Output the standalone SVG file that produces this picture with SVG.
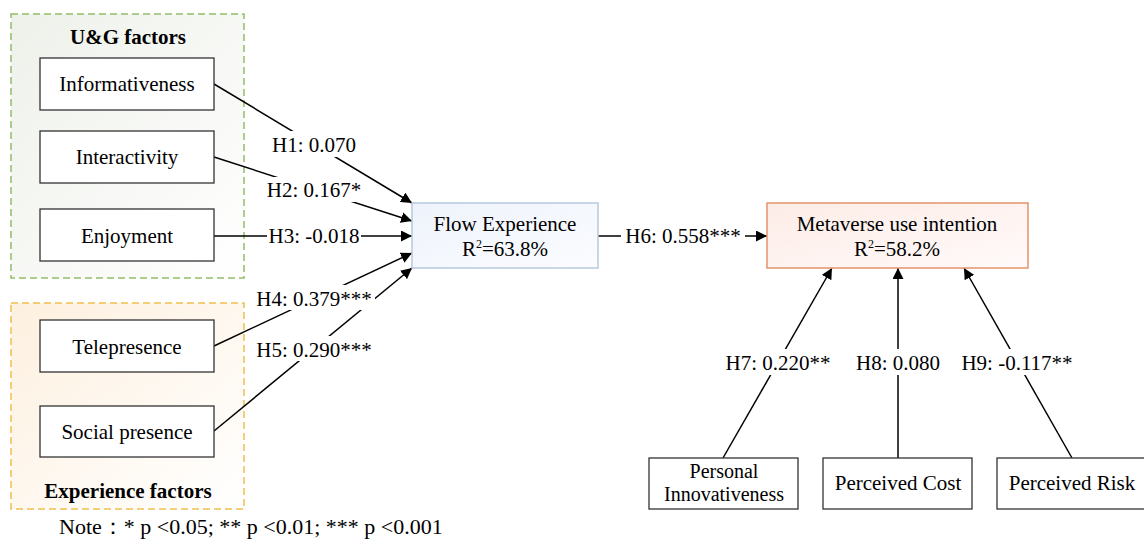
<svg xmlns="http://www.w3.org/2000/svg" width="1144" height="542" viewBox="0 0 1144 542">
<defs>
<linearGradient id="gGreen" x1="0" y1="0" x2="1" y2="1"><stop offset="0" stop-color="#eef1ea"/><stop offset="1" stop-color="#ffffff"/></linearGradient>
<linearGradient id="gOrange" x1="0" y1="0" x2="1" y2="1"><stop offset="0" stop-color="#fdf0df"/><stop offset="1" stop-color="#ffffff"/></linearGradient>
<linearGradient id="gBlue" x1="0" y1="0" x2="1" y2="1"><stop offset="0" stop-color="#eef3fb"/><stop offset="1" stop-color="#fbfcff"/></linearGradient>
<linearGradient id="gPink" x1="0" y1="0" x2="1" y2="1"><stop offset="0" stop-color="#fdece6"/><stop offset="1" stop-color="#fffafa"/></linearGradient>
<marker id="arr" viewBox="0 0 10 10" refX="10" refY="5" markerWidth="11" markerHeight="11" markerUnits="userSpaceOnUse" orient="auto"><path d="M0,0 L10,5 L0,10 z" fill="#000"/></marker>
</defs>
<style>
text{font-family:"Liberation Serif","Times New Roman",serif;font-size:21px;fill:#000;text-anchor:middle}
.node{fill:#fff;stroke:#333;stroke-width:1.3}
.grp{stroke-width:1.5;stroke-dasharray:7,4}
.b{font-weight:bold}
.c{stroke:#000;stroke-width:1.5;fill:none}
.lbl{fill:#fff}
</style>
<rect width="1144" height="542" fill="#fff"/>
<g id="ug-group">
<rect x="11" y="14" width="233" height="264" fill="url(#gGreen)" stroke="#93bd6a" class="grp"/>
<text x="128" y="44" class="b">U&amp;G factors</text>
</g>
<g id="exp-group">
<rect x="11" y="303" width="233" height="206" fill="url(#gOrange)" stroke="#efc04e" class="grp"/>
<text x="128" y="498" class="b">Experience factors</text>
</g>
<g id="connectors">
<line class="c" x1="214" y1="84" x2="412" y2="203" marker-end="url(#arr)"/>
<line class="c" x1="214" y1="157" x2="412" y2="221" marker-end="url(#arr)"/>
<line class="c" x1="214" y1="236" x2="412" y2="236" marker-end="url(#arr)"/>
<line class="c" x1="214" y1="346" x2="412" y2="253" marker-end="url(#arr)"/>
<line class="c" x1="214" y1="431" x2="412" y2="268" marker-end="url(#arr)"/>
<line class="c" x1="598" y1="236" x2="767" y2="236" marker-end="url(#arr)"/>
<line class="c" x1="723" y1="458" x2="832" y2="268" marker-end="url(#arr)"/>
<line class="c" x1="898" y1="458" x2="898" y2="268" marker-end="url(#arr)"/>
<line class="c" x1="1072" y1="458" x2="964" y2="268" marker-end="url(#arr)"/>
<rect class="lbl" x="268" y="131" width="92" height="26"/>
<text x="314" y="152">H1: 0.070</text>
<rect class="lbl" x="264" y="177" width="100" height="25"/>
<text x="314" y="197">H2: 0.167*</text>
<rect class="lbl" x="267" y="225" width="94" height="22"/>
<text x="314" y="243">H3: -0.018</text>
<rect class="lbl" x="253" y="285" width="122" height="25"/>
<text x="314" y="306">H4: 0.379***</text>
<rect class="lbl" x="253" y="336" width="122" height="25"/>
<text x="314" y="357">H5: 0.290***</text>
<rect class="lbl" x="621" y="225" width="124" height="22"/>
<text x="683" y="243">H6: 0.558***</text>
<rect class="lbl" x="721" y="349" width="114" height="26"/>
<text x="778" y="370">H7: 0.220**</text>
<rect class="lbl" x="852" y="349" width="92" height="26"/>
<text x="898" y="370">H8: 0.080</text>
<rect class="lbl" x="957" y="349" width="120" height="26"/>
<text x="1017" y="370">H9: -0.117**</text>
</g>
<g id="informativeness"><rect class="node" x="40" y="58" width="174" height="52"/><text x="127" y="91">Informativeness</text></g>
<g id="interactivity"><rect class="node" x="40" y="131" width="174" height="52"/><text x="127" y="164">Interactivity</text></g>
<g id="enjoyment"><rect class="node" x="40" y="209" width="174" height="52"/><text x="127" y="243">Enjoyment</text></g>
<g id="telepresence"><rect class="node" x="40" y="320" width="174" height="52"/><text x="127" y="354">Telepresence</text></g>
<g id="social-presence"><rect class="node" x="40" y="406" width="174" height="51"/><text x="127" y="439">Social presence</text></g>
<g id="flow-experience"><rect x="412" y="203" width="186" height="65" fill="url(#gBlue)" stroke="#b7c9dd" stroke-width="1.5"/><text x="505" y="231">Flow Experience</text><text x="505" y="256">R<tspan dy="-8" font-size="12">2</tspan><tspan dy="8">=63.8%</tspan></text></g>
<g id="metaverse-use-intention"><rect x="767" y="203" width="261" height="65" fill="url(#gPink)" stroke="#e2946a" stroke-width="1.5"/><text x="897" y="231">Metaverse use intention</text><text x="897" y="256">R<tspan dy="-8" font-size="12">2</tspan><tspan dy="8">=58.2%</tspan></text></g>
<g id="personal-innovativeness"><rect class="node" x="649" y="458" width="149" height="51"/><text x="724" y="478" style="font-size:20px">Personal</text><text x="724" y="501" style="font-size:20px">Innovativeness</text></g>
<g id="perceived-cost"><rect class="node" x="823" y="458" width="149" height="51"/><text x="898" y="490">Perceived Cost</text></g>
<g id="perceived-risk"><rect class="node" x="997" y="458" width="150" height="51"/><text x="1072" y="490">Perceived Risk</text></g>
<text x="59" y="534" style="text-anchor:start;font-size:22px">Note：* p &lt;0.05; ** p &lt;0.01; *** p &lt;0.001</text>
</svg>
